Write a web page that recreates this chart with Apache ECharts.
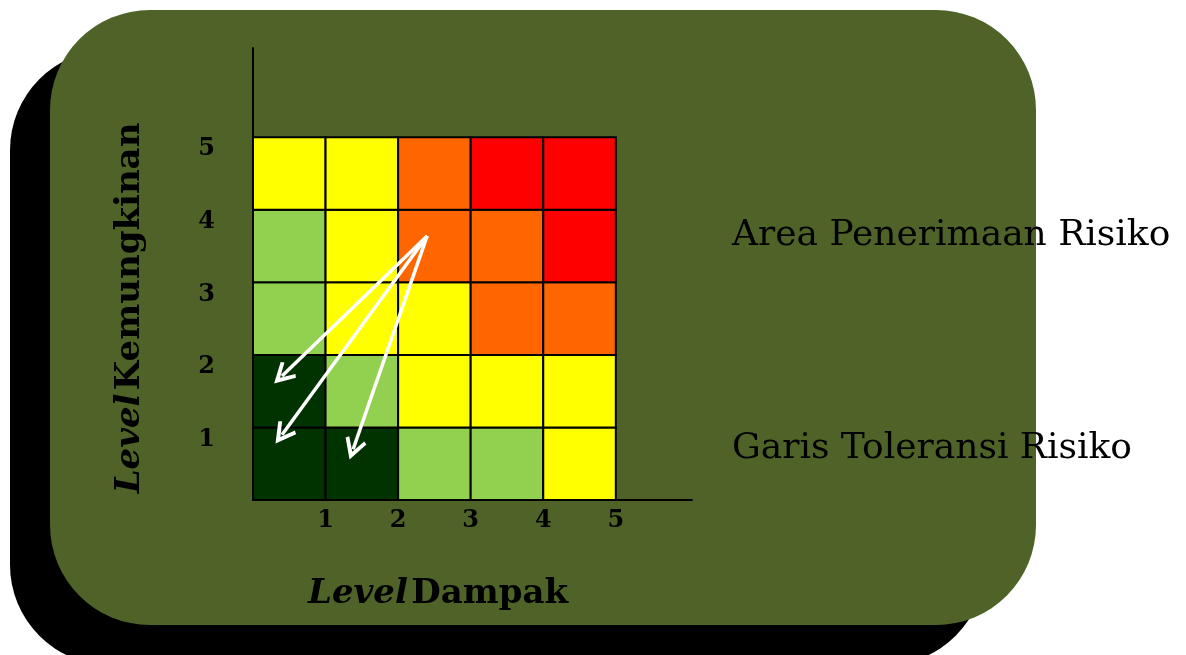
<!DOCTYPE html>
<html>
<head>
<meta charset="utf-8">
<script src="https://cdn.jsdelivr.net/npm/echarts@6/dist/echarts.min.js"></script>
<style>
  html, body { margin: 0; padding: 0; background: #fff; }
  #chart { width: 1186px; height: 655px; }
</style>
</head>
<body>
<div id="chart"></div>
<script>
// tick labels on both axes
const impactTicks = [1, 2, 3, 4, 5];
const likelihoodTicks = [1, 2, 3, 4, 5];
// colour per risk level (lowest -> highest)
const levelColors = ['#003300', '#92D050', '#FFFF00', '#FF6600', '#FF0000'];
// risk level per cell: rows = likelihood 1..5, columns = impact 1..5
const riskMatrix = [
    [0, 0, 1, 1, 2],
    [0, 1, 2, 2, 2],
    [1, 2, 2, 3, 3],
    [1, 2, 3, 3, 4],
    [2, 2, 3, 4, 4]
];
// arrows from the current risk to the acceptance area
const arrowStart = [2.40, 3.64];
const arrowEnds = [[0.40, 1.71], [0.40, 0.90], [1.38, 0.70]];

const cells = [];
riskMatrix.forEach((row, yi) => {
    row.forEach((level, xi) => {
        cells.push([impactTicks[xi], likelihoodTicks[yi], level]);
    });
});

const myChart = echarts.init(document.getElementById('chart'));

function renderCell(params, api) {
    const x = api.value(0), y = api.value(1);
    const p0 = api.coord([x - 1, y - 1]);
    const p1 = api.coord([x, y]);
    return {
        type: 'rect',
        shape: {x: p0[0], y: p1[1], width: p1[0] - p0[0], height: p0[1] - p1[1]},
        style: {fill: levelColors[api.value(2)], stroke: '#000', lineWidth: 2}
    };
}

const boldFont = 'DejaVu Serif';
const titleRich = {
    i: {fontFamily: boldFont, fontStyle: 'italic', fontWeight: 'bold', fontSize: 34, fill: '#000'},
    b: {fontFamily: boldFont, fontWeight: 'bold', fontSize: 34, fill: '#000'}
};

const option = {
    animation: false,
    backgroundColor: '#fff',
    graphic: [
        {type: 'rect', z: -20, shape: {x: 10, y: 50, width: 975, height: 615, r: 100}, style: {fill: '#000'}},
        {type: 'rect', z: -10, shape: {x: 50, y: 10, width: 986, height: 615, r: 100}, style: {fill: '#4F6228'}},
        {
            type: 'text', z: 50, x: 732, y: 236,
            style: {text: 'Area Penerimaan Risiko', fill: '#000', font: '36px "DejaVu Serif"', verticalAlign: 'middle'}
        },
        {
            type: 'text', z: 50, x: 732, y: 449,
            style: {text: 'Garis Toleransi Risiko', fill: '#000', font: '36px "DejaVu Serif"', verticalAlign: 'middle'}
        },
        {
            type: 'text', z: 50, x: 438, y: 594,
            style: {text: '{i|Level} {b|Dampak}', align: 'center', verticalAlign: 'middle', rich: titleRich}
        },
        {
            type: 'text', z: 50, x: 130, y: 308, rotation: Math.PI / 2,
            style: {text: '{i|Level} {b|Kemungkinan}', align: 'center', verticalAlign: 'middle', rich: titleRich}
        }
    ],
    grid: {left: 253, top: 48, right: 494, bottom: 155},
    xAxis: {
        type: 'value', min: 0, max: 6.05,
        splitLine: {show: false},
        axisTick: {show: false},
        axisLine: {lineStyle: {color: '#000', width: 2}},
        axisLabel: {
            customValues: impactTicks, margin: 9,
            color: '#000', fontFamily: boldFont, fontWeight: 'bold', fontSize: 24
        }
    },
    yAxis: {
        type: 'value', min: 0, max: 6.23,
        splitLine: {show: false},
        axisTick: {show: false},
        axisLine: {lineStyle: {color: '#000', width: 2}},
        axisLabel: {
            customValues: likelihoodTicks, margin: 38, verticalAlign: 'top', padding: [0, 0, 0, 0],
            color: '#000', fontFamily: boldFont, fontWeight: 'bold', fontSize: 24
        }
    },
    series: [
        {
            type: 'custom',
            renderItem: renderCell,
            encode: {x: 0, y: 1},
            data: cells,
            z: 3
        },
        {
            type: 'lines',
            coordinateSystem: 'cartesian2d',
            symbol: ['none', 'path://M5,0 L10,8.6 L8.6,9.6 L5,3.6 L1.4,9.6 L0,8.6 Z'],
            symbolSize: 22,
            lineStyle: {color: '#fff', width: 3.5, opacity: 1, curveness: 0},
            data: arrowEnds.map(end => ({coords: [arrowStart, end]})),
            z: 5
        }
    ]
};

myChart.setOption(option);
</script>
</body>
</html>
